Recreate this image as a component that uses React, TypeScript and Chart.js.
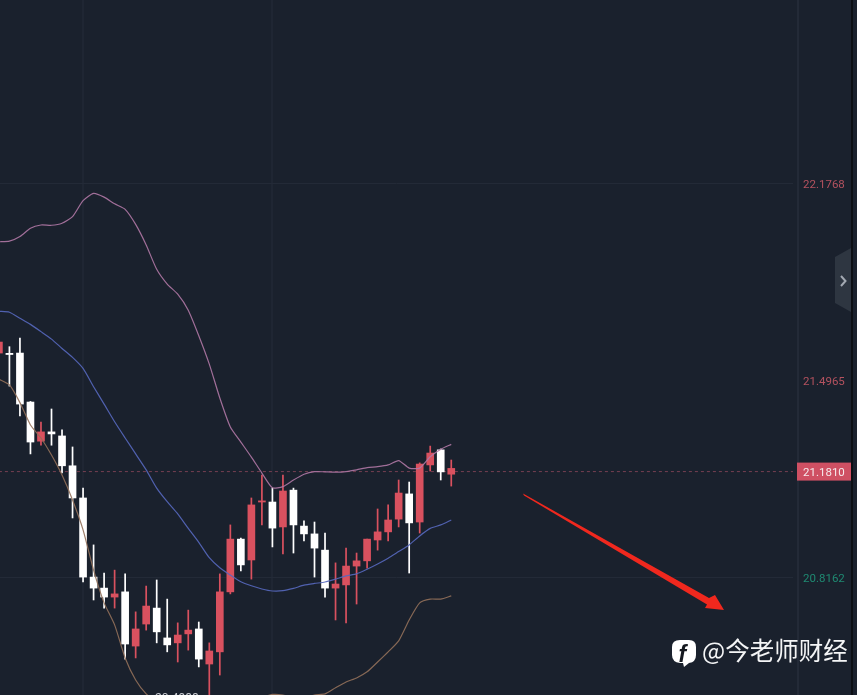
import React, { useEffect, useRef } from "react";
import { Chart, registerables } from "chart.js";

Chart.register(...registerables);

const opens = [21.590, 21.589, 21.590, 21.421, 21.286, 21.318, 21.304, 21.201, 21.090, 20.817, 20.779, 20.748, 20.766, 20.579, 20.655, 20.710, 20.607, 20.590, 20.621, 20.638, 20.517, 20.559, 20.766, 20.948, 20.876, 21.076, 21.076, 20.990, 21.117, 20.993, 20.966, 20.910, 20.779, 20.790, 20.855, 20.873, 20.945, 20.973, 21.017, 21.104, 21.007, 21.204, 21.256, 21.172];
const closes = [21.628, 21.585, 21.414, 21.283, 21.318, 21.311, 21.201, 21.090, 20.817, 20.779, 20.748, 20.759, 20.586, 20.638, 20.717, 20.628, 20.583, 20.617, 20.634, 20.534, 20.562, 20.766, 20.948, 20.859, 21.066, 21.080, 20.986, 21.114, 20.997, 20.966, 20.917, 20.779, 20.793, 20.855, 20.873, 20.948, 20.973, 21.014, 21.107, 21.004, 21.207, 21.245, 21.180, 21.192];
const highs = [21.635, 21.612, 21.642, 21.423, 21.352, 21.397, 21.325, 21.266, 21.124, 20.928, 20.831, 20.841, 20.828, 20.697, 20.786, 20.807, 20.741, 20.659, 20.703, 20.662, 20.590, 20.828, 20.997, 20.952, 21.090, 21.169, 21.124, 21.169, 21.124, 21.011, 21.007, 20.969, 20.866, 20.917, 20.900, 20.948, 21.052, 21.066, 21.152, 21.145, 21.211, 21.269, 21.259, 21.221];
const lows = [21.580, 21.476, 21.373, 21.242, 21.272, 21.272, 21.176, 21.021, 20.800, 20.738, 20.710, 20.710, 20.534, 20.538, 20.634, 20.590, 20.559, 20.524, 20.565, 20.507, 20.393, 20.479, 20.759, 20.838, 20.810, 20.997, 20.921, 20.897, 20.900, 20.942, 20.817, 20.748, 20.669, 20.659, 20.724, 20.848, 20.910, 20.942, 20.990, 20.831, 20.969, 21.183, 21.152, 21.131];
const upperBand = [21.974, 21.976, 21.992, 22.021, 22.032, 22.031, 22.038, 22.061, 22.116, 22.141, 22.128, 22.105, 22.086, 22.034, 21.963, 21.879, 21.828, 21.793, 21.738, 21.650, 21.552, 21.435, 21.335, 21.283, 21.231, 21.176, 21.125, 21.129, 21.152, 21.172, 21.181, 21.180, 21.179, 21.181, 21.187, 21.195, 21.198, 21.204, 21.219, 21.193, 21.193, 21.232, 21.258, 21.275];
const middleBand = [21.734, 21.731, 21.710, 21.689, 21.664, 21.638, 21.606, 21.575, 21.537, 21.474, 21.414, 21.353, 21.297, 21.242, 21.187, 21.124, 21.077, 21.035, 20.985, 20.937, 20.884, 20.849, 20.824, 20.801, 20.787, 20.776, 20.769, 20.770, 20.778, 20.789, 20.795, 20.800, 20.810, 20.821, 20.828, 20.844, 20.862, 20.882, 20.905, 20.928, 20.959, 20.985, 20.997, 21.014];
const lowerBand = [21.500, 21.480, 21.419, 21.342, 21.297, 21.238, 21.169, 21.083, 20.980, 20.841, 20.728, 20.652, 20.538, 20.462, 20.414, 20.386, 20.365, 20.348, 20.330, 20.317, 20.307, 20.303, 20.317, 20.341, 20.365, 20.400, 20.412, 20.410, 20.400, 20.400, 20.410, 20.414, 20.435, 20.455, 20.469, 20.490, 20.524, 20.559, 20.597, 20.669, 20.728, 20.741, 20.741, 20.752];

const lastPrice = 21.181;
const priceTicks = [22.1768, 21.4965, 21.181, 20.8162];
const timeTicks = [8, 26];
const lowLabel = "20.4988";
const watermark = "@今老师财经";

const BG = "#1a212d";
const GRID = "#232a37";
const VGRID = "#1f2633";
const RED = "#d9515f";
const WHITE = "#ffffff";
const FONT = "Roboto, 'Noto Sans', sans-serif";

const idx = opens.map((_, i) => i);
const candleColor = idx.map((i) => (closes[i] >= opens[i] ? RED : WHITE));

const noPad = (s: any) => {
  s.paddingTop = 0;
  s.paddingBottom = 0;
  s.paddingLeft = 0;
  s.paddingRight = 0;
};

const decorations = {
  id: "decorations",
  beforeDraw(chart: any) {
    const { ctx, width, height, scales } = chart;
    ctx.save();
    ctx.fillStyle = BG;
    ctx.fillRect(0, 0, width, height);
    // separator of the price axis
    ctx.fillStyle = GRID;
    ctx.fillRect(797, 0, 2, height);
    // price tag
    const y = scales.y.getPixelForValue(lastPrice);
    ctx.fillStyle = "#cf5063";
    ctx.fillRect(797, y - 9, 55, 18);
    // side handle
    ctx.fillStyle = "#2e3641";
    ctx.beginPath();
    ctx.moveTo(851, 248);
    ctx.lineTo(835, 257);
    ctx.lineTo(835, 303);
    ctx.lineTo(851, 312);
    ctx.closePath();
    ctx.fill();
    ctx.strokeStyle = "#a3a9b2";
    ctx.lineWidth = 2;
    ctx.beginPath();
    ctx.moveTo(841, 276);
    ctx.lineTo(845.5, 281);
    ctx.lineTo(841, 286);
    ctx.stroke();
    // right edge
    ctx.fillStyle = "#0c0f14";
    ctx.fillRect(851, 0, 2, height);
    ctx.restore();
  },
  afterDraw(chart: any) {
    const { ctx } = chart;
    ctx.save();
    // low marker, cut by the edge of the picture
    ctx.fillStyle = "#c9ccd2";
    ctx.font = `12px ${FONT}`;
    ctx.textAlign = "left";
    ctx.textBaseline = "alphabetic";
    ctx.fillText(lowLabel, 155, 702);
    // annotation arrow
    ctx.fillStyle = "#f0281e";
    ctx.beginPath();
    ctx.moveTo(523, 493.5);
    ctx.lineTo(709, 598);
    ctx.lineTo(715, 595);
    ctx.lineTo(724, 610);
    ctx.lineTo(705, 608);
    ctx.lineTo(707, 604.5);
    ctx.lineTo(524, 495.5);
    ctx.closePath();
    ctx.fill();
    // facebook badge
    ctx.fillStyle = "#ffffff";
    ctx.beginPath();
    ctx.moveTo(680, 640);
    ctx.lineTo(689, 640);
    ctx.quadraticCurveTo(696, 640, 696, 647);
    ctx.lineTo(696, 655);
    ctx.quadraticCurveTo(696, 662, 689, 663);
    ctx.lineTo(684, 667);
    ctx.lineTo(683, 663);
    ctx.lineTo(680, 663);
    ctx.quadraticCurveTo(672, 662, 672, 655);
    ctx.lineTo(672, 647);
    ctx.quadraticCurveTo(672, 640, 680, 640);
    ctx.closePath();
    ctx.fill();
    ctx.fillStyle = "#14181f";
    ctx.font = `italic bold 23px "Liberation Sans", sans-serif`;
    ctx.fillText("f", 678.5, 662);
    // watermark
    ctx.fillStyle = "#f4f5f6";
    ctx.font = `24.5px "Noto Sans CJK SC", sans-serif`;
    ctx.fillText(watermark, 702, 660);
    ctx.restore();
  },
};

export default function App() {
  const ref = useRef<HTMLCanvasElement>(null);
  useEffect(() => {
    if (!ref.current) return;
    const lineDs = (label: string, data: number[], color: string) => ({
      type: "line" as const,
      label,
      data: idx.map((i) => ({ x: i, y: data[i] })),
      borderColor: color,
      borderWidth: 1.2,
      pointRadius: 0,
      tension: 0.2,
      order: 1,
    });
    const chart = new Chart(ref.current, {
      type: "bar",
      plugins: [decorations],
      data: {
        datasets: [
          lineDs("UB", upperBand, "rgba(176,120,165,0.9)"),
          lineDs("MB", middleBand, "rgba(86,104,190,0.9)"),
          lineDs("LB", lowerBand, "rgba(146,112,90,0.9)"),
          {
            type: "line" as const,
            label: "Last",
            data: [
              { x: 0, y: lastPrice },
              { x: 76, y: lastPrice },
            ],
            borderColor: "rgba(150,75,95,0.75)",
            borderWidth: 1,
            borderDash: [3, 3],
            pointRadius: 0,
            order: 4,
          },
          {
            label: "Body",
            data: idx.map((i) => ({ x: i, y: [opens[i], closes[i]] })),
            backgroundColor: candleColor,
            barThickness: 7,
            grouped: false,
            order: 2,
          },
          {
            label: "Wick",
            data: idx.map((i) => ({ x: i, y: [lows[i], highs[i]] })),
            backgroundColor: candleColor,
            barThickness: 1.05,
            grouped: false,
            order: 3,
          },
        ] as any,
      },
      options: {
        responsive: false,
        animation: false,
        devicePixelRatio: 1,
        layout: { padding: 0 },
        plugins: { legend: { display: false }, tooltip: { enabled: false } },
        scales: {
          x: {
            type: "linear",
            min: 0.1046,
            max: 75.485,
            offset: false,
            border: { display: false },
            grid: { color: VGRID, lineWidth: 2, drawTicks: false, offset: false },
            ticks: { display: false },
            afterBuildTicks: (s: any) => {
              s.ticks = timeTicks.map((value) => ({ value }));
            },
            afterFit: (s: any) => {
              s.height = 0;
              noPad(s);
            },
          },
          y: {
            type: "linear",
            position: "right",
            min: 20.4101,
            max: 22.8083,
            border: { display: false },
            grid: {
              drawTicks: false,
              lineWidth: 1,
              color: (c: any) =>
                c.tick && (c.tick.value === lastPrice || c.tick.value === 21.4965) ? "transparent" : GRID,
            },
            ticks: {
              padding: 10,
              labelOffset: 1.8,
              autoSkip: false,
              font: { size: 11.5, family: FONT },
              color: (c: any) =>
                c.tick.value === lastPrice ? "#f6e9ec" : c.tick.value === 20.8162 ? "#1f8a72" : "#b4525f",
              callback: (v: any) => Number(v).toFixed(4),
            },
            afterBuildTicks: (s: any) => {
              s.ticks = priceTicks.map((value) => ({ value }));
            },
            afterFit: (s: any) => {
              s.width = 64;
              noPad(s);
            },
          },
        },
      } as any,
    });
    return () => chart.destroy();
  }, []);
  return (
    <canvas
      ref={ref}
      width={857}
      height={695}
      style={{ position: "fixed", left: 0, top: 0, display: "block", width: 857, height: 695 }}
    />
  );
}
